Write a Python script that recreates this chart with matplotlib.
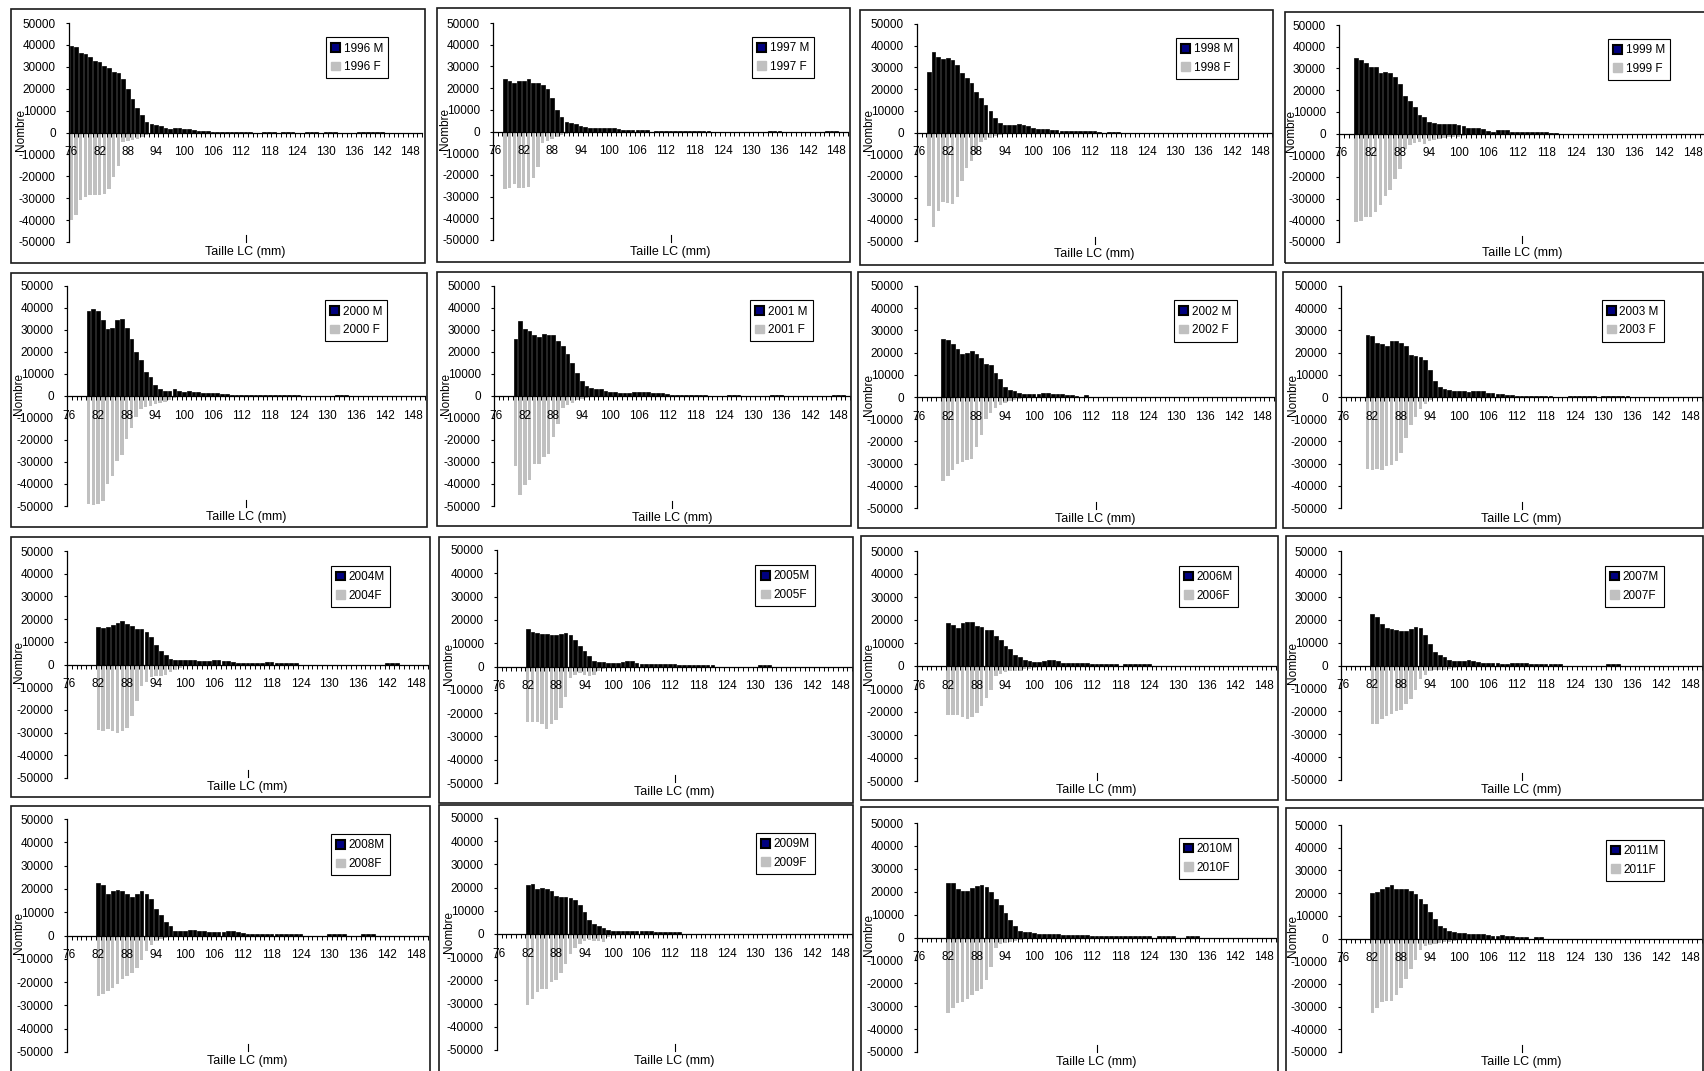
import matplotlib
matplotlib.use("Agg")
import matplotlib.pyplot as plt
from matplotlib.patches import Rectangle, Patch
from matplotlib.lines import Line2D

plt.rcParams['font.family'] = ['Liberation Sans', 'DejaVu Sans']

# ---------------------------------------------------------------- data
SIZES = list(range(76, 151))                 # carapace length classes (mm)
TICK_SIZES = list(range(76, 149, 6))         # labelled classes
Y_TICKS = list(range(-50000, 50001, 10000))

YEARS = [1996, 1997, 1998, 1999, 2000, 2001, 2002, 2003,
         2004, 2005, 2006, 2007, 2008, 2009, 2010, 2011]
FIRST_SIZE = [76, 78, 78, 79, 80, 80, 81, 81,
              82, 82, 82, 82, 82, 82, 82, 82]

M_1996 = [39500, 39000, 36500, 36000, 34500, 32500, 32000, 30500, 29500, 27500,
          27000, 24500, 20000, 15500, 11000, 8000, 5000, 4000, 3500, 3000,
          2000, 1800, 2000, 2000, 1800, 1500, 1000, 800, 700, 500,
          300, 300, 300, 300, 300, 300, 300, 300, 300, 0,
          0, 300, 300, 300, 0, 300, 300, 300, 0, 0,
          300, 300, 300, 0, 300, 300, 300, 0, 0, 0,
          0, 300, 300, 300, 300, 300, 300]
F_1996 = [-40000, -37500, -31000, -29500, -28500, -28500, -28500, -28000, -26000, -20500,
          -15500, -4500, -4000, -3500, -3000, -2000, -1000, -500]

M_1997 = [24000, 23500, 22500, 23500, 23500, 24000, 22500, 22500, 21500, 19500,
          15500, 10000, 6500, 4500, 4000, 3500, 2500, 2000, 1500, 1500,
          1500, 1500, 1500, 1500, 1200, 800, 800, 800, 800, 800,
          500, 0, 400, 400, 400, 400, 400, 400, 400, 400,
          400, 400, 400, 400, 0, 0, 0, 0, 0, 0,
          0, 0, 0, 0, 0, 0, 400, 400, 400, 0,
          0, 0, 0, 0, 0, 0, 0, 0, 400, 400,
          400]
F_1997 = [-26500, -26000, -24000, -26000, -26000, -25500, -21500, -16500, -5500, -4500,
          -3500, -2500, -1500, -1000, -500]

M_1998 = [28000, 37000, 35000, 34000, 34500, 33500, 31000, 27500, 25000, 23000,
          18500, 16000, 12500, 10000, 6500, 4500, 3500, 3500, 3500, 4000,
          3500, 3000, 2000, 1800, 1800, 1800, 1200, 1000, 600, 500,
          500, 500, 500, 500, 800, 500, 400, 0, 400, 400,
          400]
F_1998 = [-34000, -43500, -36000, -32000, -32500, -33000, -29500, -22500, -16500, -13000,
          -10000, -4500, -3500, -2500, -1500, -1000, -500]

M_1999 = [35000, 34000, 32500, 30500, 30500, 28000, 28500, 28000, 26000, 23000,
          17500, 15000, 12000, 8500, 7500, 5500, 5000, 4500, 4200, 4200,
          4200, 4000, 3500, 2500, 2500, 2500, 2000, 1200, 800, 1500,
          1500, 1500, 800, 600, 600, 800, 600, 500, 500, 500,
          400, 400]
F_1999 = [-41000, -40500, -38500, -38500, -36000, -33000, -29000, -26000, -21000, -16500,
          -7000, -5500, -4500, -4000, -5000, -3500, -3000, -2500, -2000, -1800,
          -1500, -1500, -1000, -800, -500]

M_2000 = [38500, 39500, 38500, 34500, 30500, 31000, 34500, 35000, 31000, 26000,
          20000, 16500, 11000, 8500, 5000, 3000, 2500, 2500, 3000, 2500,
          2000, 2500, 2000, 1800, 1500, 1500, 1500, 1500, 1000, 800,
          500, 500, 500, 500, 500, 500, 500, 500, 500, 500,
          500, 500, 500, 500, 500, 0, 0, 0, 0, 0,
          0, 0, 500, 500, 500]
F_2000 = [-49000, -49500, -49000, -47500, -40000, -36500, -29500, -27000, -19500, -14500,
          -9500, -6000, -5000, -4500, -3500, -3000, -2500, -2000, -1000, -500]

M_2001 = [26000, 34000, 30500, 29500, 27500, 27000, 28000, 27500, 27500, 25000,
          22500, 19000, 15000, 10500, 7000, 4500, 3500, 3000, 3000, 2500,
          2000, 1800, 1500, 1500, 1500, 1800, 2000, 2000, 1800, 1200,
          1200, 1200, 800, 500, 500, 500, 500, 500, 500, 500,
          500, 0, 0, 0, 0, 500, 500, 500, 0, 0,
          0, 0, 0, 0, 500, 500, 500, 0, 0, 0,
          0, 0, 0, 0, 0, 0, 0, 500, 500, 500]
F_2001 = [-32000, -45000, -40500, -38000, -31000, -31000, -27500, -26500, -18500, -12500,
          -5500, -4000, -3000, -2000, -1500, -1000, -500]

M_2002 = [26000, 25500, 24000, 21500, 19500, 20000, 20500, 19500, 17500, 15000,
          14500, 11000, 8000, 4500, 3000, 2800, 2000, 1500, 1300, 1300,
          1500, 1800, 1800, 1500, 1300, 1200, 1000, 1000, 500, 0,
          800, 150, 150, 150, 150, 150, 150]
F_2002 = [-38000, -35500, -33000, -30000, -29500, -28500, -28000, -22500, -17000, -10000,
          -7000, -5000, -3500, -2500, -2000, -1500, -1000, -500]

M_2003 = [28000, 27500, 24500, 24000, 23000, 25000, 25000, 24500, 23000, 19000,
          18500, 18000, 16500, 12000, 7000, 4500, 3500, 3000, 2500, 2500,
          2500, 2200, 2500, 2500, 2500, 2000, 1800, 1500, 1200, 1000,
          800, 600, 500, 500, 500, 500, 500, 500, 500, 0,
          0, 0, 500, 500, 500, 500, 500, 500, 0, 500,
          500, 500, 500, 500, 500]
F_2003 = [-32500, -33000, -32500, -33000, -31000, -30500, -29000, -25000, -18500, -12500,
          -9000, -5500, -3000, -1500, -500]

M_2004 = [16500, 16000, 16500, 17500, 18500, 19000, 18000, 17000, 15500, 15500,
          14500, 12000, 8500, 6000, 4000, 2500, 2000, 1800, 1800, 1800,
          1800, 1500, 1500, 1500, 1800, 1800, 1500, 1500, 1200, 800,
          800, 800, 800, 800, 800, 1000, 1000, 800, 800, 800,
          800, 800, 0, 0, 0, 0, 0, 0, 0, 0,
          0, 0, 0, 0, 0, 0, 0, 0, 0, 0,
          600, 600, 600]
F_2004 = [-29000, -29500, -28500, -29500, -30000, -29500, -28000, -22500, -16000, -9500,
          -7500, -5500, -5000, -5000, -4500, -3500, -2500, -1500, -800]

M_2005 = [16000, 15000, 14500, 14000, 14000, 13500, 13500, 14000, 14500, 13500,
          11500, 9000, 6500, 4500, 2500, 2000, 1800, 1500, 1500, 1500,
          2000, 2200, 2200, 1500, 1200, 1200, 1000, 1000, 1000, 1000,
          1000, 1000, 800, 800, 800, 800, 800, 800, 800, 500,
          0, 0, 0, 0, 0, 0, 0, 0, 0, 800,
          800, 800]
F_2005 = [-24000, -24000, -24000, -24500, -27000, -24500, -23000, -18000, -13000, -5000,
          -3500, -3000, -3500, -4000, -3500, -2000, -1000, -500]

M_2006 = [18500, 18000, 16500, 18500, 19000, 19000, 17500, 17000, 15500, 15500,
          13000, 11500, 8500, 7500, 5000, 4000, 2500, 2000, 1800, 1800,
          2000, 2500, 2500, 2000, 1500, 1200, 1500, 1500, 1500, 1200,
          800, 800, 800, 800, 800, 800, 0, 700, 700, 700,
          700, 700, 700]
F_2006 = [-21500, -21500, -21500, -22000, -23000, -22000, -20500, -17500, -14000, -10500,
          -4500, -3500, -2500, -2000, -2000, -2000, -1500, -1500, -1000, -500]

M_2007 = [22500, 21000, 18000, 16500, 16000, 15500, 15000, 15000, 16000, 17000,
          16500, 13500, 9500, 6000, 4500, 3500, 2500, 2000, 2000, 2000,
          2500, 2000, 1500, 1000, 1000, 1000, 1000, 800, 800, 1000,
          1000, 1000, 1000, 800, 800, 800, 800, 800, 800, 800,
          0, 0, 0, 0, 0, 0, 0, 0, 0, 800,
          800, 800]
F_2007 = [-25500, -25500, -23500, -22000, -21000, -20000, -19500, -17000, -14500, -10500,
          -6000, -4000, -2500, -2000, -2000, -2000, -1500, -1000, -500]

M_2008 = [22500, 21500, 18000, 19000, 19500, 19000, 18000, 16500, 18000, 19000,
          18000, 15500, 11500, 9000, 6000, 4000, 2000, 2000, 2000, 2500,
          2500, 2000, 1800, 1500, 1500, 1500, 1500, 1800, 1800, 1500,
          1200, 800, 800, 600, 500, 500, 500, 500, 500, 500,
          500, 500, 500, 0, 0, 0, 0, 0, 500, 500,
          500, 500, 0, 0, 0, 500, 500, 500]
F_2008 = [-26000, -25000, -24000, -22500, -21000, -18500, -17500, -16000, -14000, -10500,
          -6500, -4000, -2500, -1500, -1000, -800, -500]

M_2009 = [21000, 21500, 19500, 20000, 19500, 18500, 16500, 16000, 16000, 15500,
          14500, 12500, 9500, 6000, 4500, 3500, 2500, 1800, 1200, 1200,
          1200, 1200, 1500, 1500, 1500, 1200, 1200, 1000, 800, 1000,
          800, 800, 800]
F_2009 = [-30500, -28000, -25000, -23500, -23500, -20500, -20000, -17000, -13000, -8500,
          -6000, -4500, -3000, -2500, -3000, -3000, -3500, -1500, -800]

M_2010 = [24000, 24000, 21000, 20500, 20500, 21500, 22500, 23000, 22000, 20000,
          17000, 14000, 10500, 7500, 5000, 3000, 2500, 2200, 2000, 1500,
          1500, 1500, 1500, 1500, 1200, 1000, 1000, 1000, 1000, 1000,
          800, 600, 600, 600, 600, 600, 600, 600, 600, 600,
          600, 600, 600, 0, 600, 600, 600, 600, 0, 0,
          600, 600, 600]
F_2010 = [-33000, -31000, -28500, -28000, -27000, -25000, -23500, -22500, -18500, -13000,
          -4500, -3000, -2500, -2000, -1500, -1000, -800, -500]

M_2011 = [20000, 20500, 22000, 22500, 23500, 22000, 22000, 22000, 21000, 19500,
          17500, 15000, 11500, 8500, 5500, 4500, 3500, 3000, 2500, 2500,
          2000, 2000, 2000, 1800, 1500, 1200, 1200, 1500, 1200, 1000,
          800, 800, 600, 0, 600, 600]
F_2011 = [-33000, -30500, -28000, -27500, -27500, -25000, -22000, -18000, -13500, -9500,
          -5000, -3500, -3000, -2500, -2000, -1500, -1500, -1000, -800, -500]

MALES = [M_1996, M_1997, M_1998, M_1999, M_2000, M_2001, M_2002, M_2003,
         M_2004, M_2005, M_2006, M_2007, M_2008, M_2009, M_2010, M_2011]
FEMALES = [F_1996, F_1997, F_1998, F_1999, F_2000, F_2001, F_2002, F_2003,
           F_2004, F_2005, F_2006, F_2007, F_2008, F_2009, F_2010, F_2011]

# ---------------------------------------------------------------- layout (pixels)
W, H = 1704, 1071
BOXES = [(11, 9, 425, 263), (437, 8, 850, 262), (860, 10, 1273, 265), (1285, 12, 1712, 263),
         (11, 273, 427, 527), (437, 272, 851, 526), (858, 272, 1276, 528), (1283, 272, 1703, 528),
         (11, 537, 430, 797), (439, 537, 853, 803), (861, 536, 1278, 800), (1286, 536, 1703, 800),
         (11, 806, 430, 1075), (439, 805, 853, 1075), (861, 807, 1278, 1075), (1286, 808, 1703, 1075)]
PLOTS = [(69, 23, 422, 242), (493, 23, 848, 240), (917, 24, 1272, 241), (1339, 25, 1705, 242),
         (67, 286, 425, 506), (494, 286, 850, 506), (917, 286, 1274, 508), (1341, 286, 1702, 508),
         (67, 551, 428, 778), (497, 550, 852, 783), (917, 551, 1276, 781), (1341, 551, 1702, 780),
         (67, 819, 428, 1052), (497, 818, 852, 1050), (917, 823, 1276, 1052), (1341, 825, 1702, 1052)]
XLABEL_DY = [10, 12, 13, 11, 11, 12, 11, 11, 9, 9, 9, 10, 9, 11, 10, 10]

MALE_COLOR = '#000000'
FEMALE_COLOR = '#c0c0c0'
FS = 8.5

fig = plt.figure(figsize=(W / 100, H / 100), dpi=100)
fig.patch.set_facecolor('white')

for i, year in enumerate(YEARS):
    bl, bt, br, bb = BOXES[i]
    fig.add_artist(Rectangle((bl / W, 1 - bb / H), (br - bl) / W, (bb - bt) / H,
                             transform=fig.transFigure, fill=False,
                             edgecolor='#1a1a1a', linewidth=1.2))

    pl, pt, pr, pb = PLOTS[i]
    pw, ph = pr - pl, pb - pt
    ax = fig.add_axes([pl / W, 1 - pb / H, pw / W, ph / H])
    ax.set_facecolor('none')

    start = FIRST_SIZE[i]
    m_vals = MALES[i]
    f_vals = FEMALES[i]
    ax.bar(list(range(start, start + len(m_vals))), m_vals, width=0.78,
           color=MALE_COLOR, edgecolor=MALE_COLOR, linewidth=0.5)
    ax.bar(list(range(start, start + len(f_vals))), f_vals, width=0.72,
           color=FEMALE_COLOR, linewidth=0)

    ax.set_xlim(SIZES[0] - 0.5, SIZES[-1] + 0.5)
    ax.set_ylim(Y_TICKS[0], Y_TICKS[-1])

    for side in ('top', 'right'):
        ax.spines[side].set_visible(False)
    ax.spines['bottom'].set_position(('data', 0))
    ax.spines['bottom'].set_linewidth(0.9)
    ax.spines['left'].set_linewidth(0.9)

    ax.set_xticks(TICK_SIZES)
    ax.set_xticklabels([str(s) for s in TICK_SIZES])
    ax.set_xticks([s - 0.5 for s in SIZES] + [SIZES[-1] + 0.5], minor=True)
    ax.tick_params(axis='x', which='major', length=0, pad=10, labelsize=FS)
    ax.tick_params(axis='x', which='minor', length=3, width=0.7, direction='out')

    ax.set_yticks(Y_TICKS)
    ax.set_yticklabels([str(v) for v in Y_TICKS])
    ax.tick_params(axis='y', length=2.5, width=0.8, pad=7, labelsize=FS)

    ax.text(-48 / pw, 0.51, 'Nombre', rotation=90, transform=ax.transAxes,
            ha='center', va='center', fontsize=FS)

    yc = -XLABEL_DY[i] / ph
    ax.text(0.5, yc, 'Taille LC (mm)', transform=ax.transAxes,
            ha='center', va='center', fontsize=9)
    ax.add_line(Line2D([0.5, 0.5], [yc + 10 / ph, yc + 17 / ph],
                       transform=ax.transAxes, color='black', linewidth=0.8,
                       clip_on=False))

    sep = ' ' if i < 8 else ''
    handles = [Patch(facecolor='#000080', edgecolor='black', linewidth=1.5),
               Patch(facecolor=FEMALE_COLOR, edgecolor=FEMALE_COLOR)]
    anchor_x = 0.905 if i < 4 else 0.895
    leg = ax.legend(handles, [f'{year}{sep}M', f'{year}{sep}F'],
                    loc='upper right', bbox_to_anchor=(anchor_x, 0.935),
                    frameon=True, fancybox=False, framealpha=1,
                    edgecolor='black', fontsize=8.5, handlelength=0.75,
                    handleheight=0.75, handletextpad=0.3, borderpad=0.45,
                    labelspacing=0.55, borderaxespad=0)
    leg.get_frame().set_linewidth(0.8)

fig.savefig('out.png', dpi=100, facecolor='white')
